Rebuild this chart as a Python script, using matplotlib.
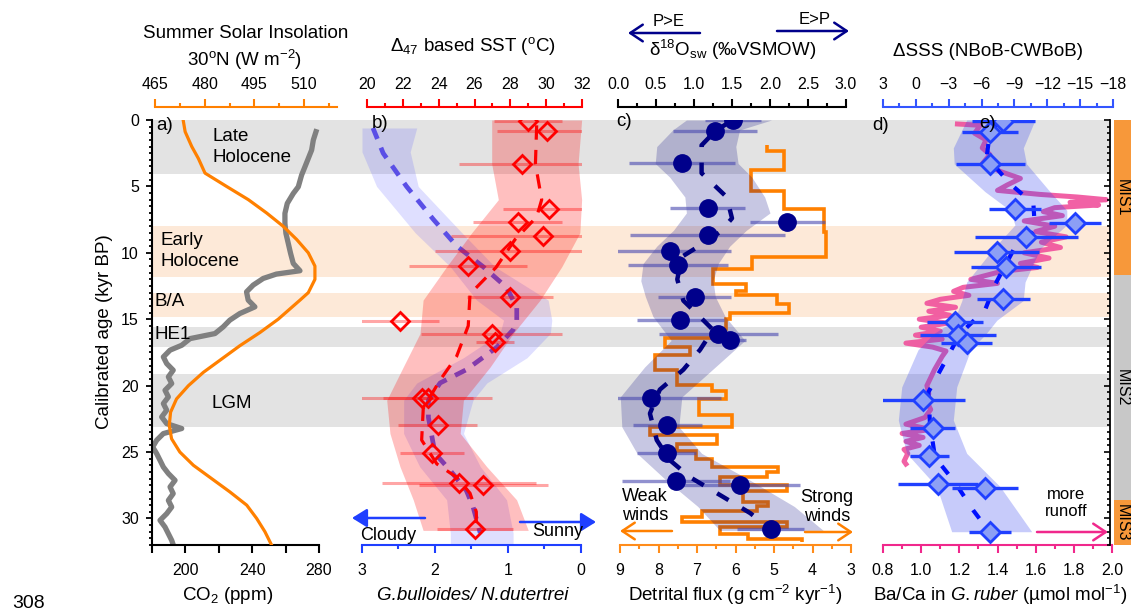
import numpy as np
import matplotlib
matplotlib.use("Agg")
import matplotlib.pyplot as plt
from matplotlib.patches import FancyArrowPatch
from matplotlib.ticker import FixedLocator, FormatStrFormatter

# ---------------- data (ages in kyr BP) ----------------
# a) summer insolation 30N (W m-2) and CO2 (ppm)
ins_age = [0, 0.88, 2.0, 2.9, 4.0, 5.0, 6.0, 7.0, 8.0, 9.0, 10.0, 11.0, 12.0, 13.0,
           13.56, 15.0, 16.0, 17.0, 18.0, 19.0, 20.0, 21.0, 22.0, 23.0, 24.0, 25.0,
           26.0, 27.0, 28.0, 29.0, 30.0, 31.0, 32.0]
ins_val = [473.5, 474.1, 476.1, 478.1, 480.1, 486.6, 493.2, 498.7, 503.7, 507.8, 511.3,
           513.3, 513.3, 511.3, 508.8, 502.2, 496.7, 490.6, 485.1, 479.6, 475.1, 471.5,
           469.7, 469.3, 470.0, 472.5, 476.6, 482.1, 487.6, 492.7, 495.7, 498.2, 500.2]

co2_age = [0.88, 1.51, 2.26, 2.89, 3.52, 4.14, 5.03, 5.53, 6.28, 7.03, 7.79, 8.54, 9.29,
           10.05, 10.8, 11.35, 11.6, 11.93, 12.43, 12.94, 13.56, 14.07, 14.57, 15.07,
           15.58, 16.08, 16.46, 16.96, 17.33, 17.84, 18.34, 18.84, 19.34, 19.84, 20.35,
           20.85, 21.35, 21.85, 22.36, 22.86, 23.23, 23.61, 24.11, 24.62, 25.12, 25.62,
           26.13, 26.62, 27.13, 27.63, 28.13, 28.64, 29.14, 29.64, 30.14, 30.65, 31.15,
           31.65, 31.98]
co2_val = [278.2, 276.6, 275.6, 273.6, 271.6, 269.6, 267.6, 264.6, 261.0, 259.6, 259.6,
           260.2, 261.6, 263.0, 264.6, 268.6, 254.5, 246.6, 240.6, 236.6, 237.6, 241.6,
           232.6, 226.6, 222.6, 217.7, 202.8, 197.8, 190.8, 186.8, 188.8, 192.7, 189.8,
           191.8, 187.8, 189.8, 186.8, 188.8, 185.8, 188.8, 197.8, 186.8, 182.8, 180.4,
           182.8, 184.8, 186.8, 189.8, 193.8, 190.8, 192.7, 189.8, 191.8, 188.8, 184.8,
           187.8, 189.8, 191.8, 192.7]

# b) clumped-isotope SST (degC) and G.bulloides/N.dutertrei ratio
sst_age = [0.05, 0.8, 3.3, 6.7, 7.7, 8.7, 9.9, 11.0, 13.3, 15.1, 16.1, 16.7, 20.9,
           20.9, 23.0, 25.1, 27.3, 27.5, 30.8]
sst_val = [29.0, 30.06, 28.65, 30.17, 28.4, 29.8, 28.0, 25.65, 28.0, 21.84, 26.96,
           27.14, 23.05, 23.42, 23.94, 23.64, 25.13, 26.49, 26.03]
sst_err = [1.9, 2.8, 3.5, 2.6, 2.5, 5.1, 4.2, 3.3, 2.4, 2.2, 3.95, 1.07, 3.9, 2.5,
           2.2, 1.8, 4.3, 3.6, 2.1]
sst_fit_age = [0.4, 3.3, 6.0, 7.3, 9.0, 11.1, 13.1, 15.5, 17.8, 19.6, 21.7, 24.1,
               25.9, 26.9, 28.1, 29.5, 30.9]
sst_fit = [29.47, 29.4, 29.75, 29.47, 28.26, 27.2, 25.75, 25.65, 25.0, 24.07, 23.14,
           23.05, 23.9, 25.0, 25.75, 26.1, 26.1]
sst_band_age = [0, 3.3, 6.0, 8.5, 11.05, 13.56, 16.07, 18.6, 21.1, 23.6, 26.1, 28.6, 30.9]
sst_band_lo = [26.96, 26.96, 27.33, 25.84, 24.44, 23.13, 22.96, 22.02, 21.1, 21.28,
               21.84, 22.58, 23.13]
sst_band_hi = [31.98, 31.78, 31.98, 31.88, 30.87, 29.66, 28.16, 26.87, 25.38, 25.2,
               26.68, 28.35, 29.0]

ratio_fit_age = [0.6, 2.5, 5.0, 7.5, 9.5, 11.05, 12.6, 14.1, 15.1, 15.8, 17.1, 18.8,
                 19.8, 21.1, 22.4, 23.6, 25.1, 26.4, 27.9, 29.1, 31.1]
ratio_fit = [2.85, 2.71, 2.39, 2.02, 1.70, 1.34, 1.02, 0.88, 0.88, 0.93, 1.15, 1.57,
             1.93, 2.09, 2.09, 2.05, 2.0, 1.79, 1.57, 1.48, 1.38]
ratio_band_age = [0.6, 2.4, 5.0, 8.5, 11.05, 13.56, 15.07, 16.07, 17.9, 19.8, 21.1,
                  23.6, 26.1, 28.6, 31.1, 32.0]
ratio_band_hi = [3.0, 3.0, 2.8, 2.27, 1.79, 1.43, 1.06, 1.11, 1.61, 2.25, 2.43, 2.43,
                 2.21, 1.84, 1.79, 1.79]
ratio_band_lo = [2.25, 2.34, 2.23, 1.63, 1.18, 0.45, 0.40, 0.42, 0.74, 1.29, 1.48, 1.61,
                 1.38, 1.02, 0.93, 0.93]

# c) d18O seawater (permil VSMOW) and detrital flux (g cm-2 kyr-1)
d18_age = [0.0, 0.83, 3.27, 6.66, 7.7, 8.67, 9.9, 10.9, 13.3, 15.07, 16.1, 16.6, 20.9,
           23.0, 25.1, 27.2, 27.5, 30.8]
d18_val = [1.51, 1.28, 0.84, 1.18, 2.23, 1.18, 0.69, 0.79, 1.01, 0.82, 1.32, 1.47, 0.43,
           0.65, 0.64, 0.76, 1.61, 2.01]
d18_err = [0.37, 0.55, 0.70, 0.49, 0.49, 1.02, 0.80, 0.66, 0.48, 0.57, 0.78, 0.22, 0.93,
           0.45, 0.39, 0.71, 0.79, 0.44]
d18_fit_age = [0.0, 0.83, 1.9, 4.0, 5.8, 7.4, 8.4, 9.3, 10.3, 12.0, 13.6, 14.6, 15.8,
               17.3, 18.8, 20.3, 22.1, 24.1, 25.6, 26.9, 28.4, 29.6, 30.6]
d18_fit = [1.51, 1.28, 1.10, 1.10, 1.43, 1.50, 1.35, 1.12, 0.84, 0.78, 0.86, 1.04, 1.25,
           1.08, 0.86, 0.55, 0.42, 0.51, 0.68, 0.95, 1.39, 1.74, 1.96]
d18_band_age = [0, 0.75, 2.0, 3.27, 4.3, 5.8, 7.0, 8.3, 9.5, 10.8, 12.1, 13.3, 14.8,
                16.6, 18.6, 20.85, 23.1, 25.1, 27.1, 29.1, 30.9]
d18_band_lo = [0.90, 0.72, 0.51, 0.49, 0.68, 0.88, 0.90, 0.73, 0.51, 0.33, 0.30, 0.36,
               0.46, 0.70, 0.35, 0.03, 0.05, 0.25, 0.63, 1.05, 1.34]
d18_band_hi = [2.02, 1.60, 1.55, 1.58, 1.76, 1.93, 2.0, 1.69, 1.47, 1.32, 1.25, 1.28,
               1.41, 1.67, 1.28, 0.84, 0.80, 1.10, 1.73, 2.32, 2.70]

flux_edges = [1.88, 2.31, 3.77, 5.33, 6.71, 8.42, 10.35, 11.2, 12.36, 12.86, 13.19,
              13.87, 14.52, 15.02, 15.7, 16.45, 17.1, 17.7, 18.84, 19.97, 20.4, 21.0,
              22.2, 23.1, 23.7, 24.4, 24.9, 25.5, 26.1, 26.5, 26.9, 27.5, 27.96, 28.76,
              29.09, 29.44, 29.9, 30.3, 30.65, 31.15, 31.52, 31.75]
flux_val = [5.17, 4.73, 5.61, 4.73, 3.70, 3.66, 5.58, 6.59, 5.73, 6.0, 4.93, 4.60, 6.14,
            6.25, 6.58, 7.83, 7.18, 8.09, 7.53, 6.62, 6.25, 6.95, 6.10, 8.22, 6.49, 7.53,
            7.03, 6.62, 4.89, 5.19, 6.40, 4.67, 5.8, 5.15, 5.45, 6.88, 7.4, 4.67, 6.40,
            5.67, 4.28]

# d/e) delta SSS (NBoB-CWBoB) and Ba/Ca in G.ruber (umol mol-1)
sss_age = [0.08, 0.88, 3.34, 6.73, 7.79, 8.79, 9.97, 11.05, 13.49, 15.2, 16.2, 16.8,
           21.1, 23.2, 25.3, 27.4, 27.7, 31.0]
sss_val = [-8.0, -6.77, -6.77, -9.05, -14.53, -10.06, -7.38, -8.23, -7.99, -3.58,
           -3.88, -4.64, -0.68, -1.54, -1.23, -2.05, -6.32, -6.77]
sss_err = [2.9, 2.6, 3.15, 2.4, 2.4, 4.7, 3.9, 3.2, 2.4, 2.56, 3.47, 2.3, 3.8, 2.05,
           1.8, 3.65, 3.0, 1.9]
sss_fit_age = [0.1, 0.8, 2.8, 4.8, 6.3, 8.3, 9.8, 12.4, 14.3, 16.1, 18.2, 20.5, 22.9,
               25.4, 27.3, 29.4, 30.9]
sss_fit = [-7.68, -6.77, -6.47, -8.6, -10.73, -10.88, -8.9, -7.23, -6.32, -4.03, -2.66,
           -1.14, -1.29, -1.75, -3.58, -5.25, -6.62]
sss_band_age = [0.0, 2.1, 3.3, 5.4, 6.8, 7.9, 9.7, 12.2, 13.6, 15.07, 16.1, 17.3, 20.1,
                22.6, 25.1, 27.6, 31.0]
sss_band_lo = [-4.64, -3.42, -3.5, -6.32, -8.6, -9.05, -7.07, -4.64, -4.2, -3.5, -1.6,
               -0.2, 1.29, 1.6, 0.84, -1.9, -3.27]
sss_band_hi = [-10.88, -9.81, -10.1, -12.25, -13.78, -13.78, -11.34, -9.97, -9.8, -7.4,
               -6.4, -5.0, -3.73, -3.42, -4.64, -7.68, -10.58]

baca_age = [0.3, 0.4, 1.0, 1.5, 2.1, 2.6, 3.3, 3.9, 4.4, 4.9, 5.3, 5.6, 5.8, 6.0, 6.2,
            6.4, 6.6, 6.9, 7.2, 7.6, 8.0, 8.4, 8.8, 9.2, 9.6, 10.0, 10.4, 10.8, 11.1,
            11.4, 11.7, 12.0, 12.3, 12.6, 12.9, 13.2, 13.5, 13.8, 14.1, 14.4, 14.7, 15.0,
            15.3, 15.6, 15.9, 16.2, 16.5, 16.8, 17.1, 17.4, 17.8, 18.3, 18.8, 19.4, 20.0,
            20.6, 21.2, 21.8, 22.4, 22.9, 23.3, 23.6, 23.9, 24.2, 24.5, 24.8, 25.1, 25.4,
            25.7, 25.9]
baca_val = [1.19, 1.31, 1.28, 1.34, 1.32, 1.36, 1.32, 1.42, 1.52, 1.45, 1.40, 1.62, 1.82,
            1.97, 1.78, 1.93, 1.70, 1.64, 1.74, 1.54, 1.70, 1.60, 1.76, 1.63, 1.73, 1.54,
            1.67, 1.52, 1.61, 1.42, 1.34, 1.26, 1.40, 1.22, 1.17, 1.25, 1.10, 1.03, 1.18,
            1.04, 1.15, 0.99, 1.14, 1.00, 1.10, 0.97, 1.11, 0.92, 1.06, 1.13, 1.11, 1.09,
            1.07, 1.05, 1.03, 1.04, 1.03, 1.05, 1.02, 0.92, 1.05, 0.90, 1.01, 0.92, 0.99,
            0.91, 0.93, 0.92, 0.91, 0.92]

# climate intervals and marine isotope stages
gray_bands = [(0, 4.1), (15.6, 17.1), (19.1, 23.1)]
peach_bands = [(8.0, 11.8), (13.0, 14.8)]
mis_edges = [0, 11.7, 28.6, 32]
mis_names = ["MIS1", "MIS2", "MIS3"]

# ---------------- figure ----------------
plt.rcParams["font.family"] = ["Liberation Sans", "DejaVu Sans"]
plt.rcParams["mathtext.fontset"] = "custom"
plt.rcParams["mathtext.rm"] = "Liberation Sans"
plt.rcParams["mathtext.it"] = "Liberation Sans:italic"
plt.rcParams["mathtext.bf"] = "Liberation Sans:bold"

W, H = 1131, 616
TOP, BOT = 120, 545
TICK_FS = 11.5
LAB_FS = 13.5

fig = plt.figure(figsize=(W / 100, H / 100), dpi=100)


def px_axes(x0, x1):
    return fig.add_axes([x0 / W, 1 - BOT / H, (x1 - x0) / W, (BOT - TOP) / H])


def ftext(x, y, s, **kw):
    kw.setdefault("fontsize", LAB_FS)
    kw.setdefault("ha", "center")
    kw.setdefault("va", "center")
    fig.text(x / W, 1 - y / H, s, **kw)


def farrow(x0, y, x1, color, style):
    fig.add_artist(FancyArrowPatch((x0 / W, 1 - y / H), (x1 / W, 1 - y / H),
                                   transform=fig.transFigure, arrowstyle=style,
                                   color=color, lw=1.8, mutation_scale=20,
                                   shrinkA=0, shrinkB=0))


def bottom_axis(ax, color, xlim, bounds, major, minor, fmt=None):
    ax.set_facecolor("none")
    ax.set_ylim(32, 0)
    ax.set_xlim(*xlim)
    for s in ("top", "right", "left"):
        ax.spines[s].set_visible(False)
    sp = ax.spines["bottom"]
    sp.set_color(color)
    sp.set_linewidth(1.5)
    sp.set_bounds(*bounds)
    ax.xaxis.set_major_locator(FixedLocator(major))
    ax.xaxis.set_minor_locator(FixedLocator(minor))
    if fmt:
        ax.xaxis.set_major_formatter(FormatStrFormatter(fmt))
    ax.tick_params(axis="x", which="both", direction="out", color=color, width=1.5,
                   labelsize=TICK_FS, pad=7)
    ax.tick_params(axis="x", which="major", length=6)
    ax.tick_params(axis="x", which="minor", length=3)
    ax.tick_params(axis="y", which="both", left=False, labelleft=False)


def top_axis(ax, color, xlim, bounds, major, minor, fmt=None):
    tw = ax.twiny()
    tw.set_xlim(*xlim)
    for s in ("bottom", "right", "left"):
        tw.spines[s].set_visible(False)
    sp = tw.spines["top"]
    sp.set_position(("outward", 9.4))
    sp.set_color(color)
    sp.set_linewidth(1.5)
    sp.set_bounds(*bounds)
    tw.xaxis.set_major_locator(FixedLocator(major))
    tw.xaxis.set_minor_locator(FixedLocator(minor))
    if fmt:
        tw.xaxis.set_major_formatter(FormatStrFormatter(fmt))
    tw.tick_params(axis="x", which="both", direction="out", color=color, width=1.5,
                   labelsize=TICK_FS, pad=4.5)
    tw.tick_params(axis="x", which="major", length=6)
    tw.tick_params(axis="x", which="minor", length=3)
    return tw


# background bands across all panels
ax_bg = px_axes(152, 1110)
ax_bg.set_ylim(32, 0)
ax_bg.axis("off")
for a0, a1 in gray_bands:
    ax_bg.axhspan(a0, a1, color="#e3e3e3", lw=0)
for a0, a1 in peach_bands:
    ax_bg.axhspan(a0, a1, color="#fde9d8", lw=0)

# ---- panel a ----
ax_a = px_axes(152, 338)
bottom_axis(ax_a, "black", (180, 291.38), (180, 280), [200, 240, 280], [180, 220, 260])
ax_a.tick_params(axis="x", which="minor", length=6)
ax_a.spines["left"].set_visible(True)
ax_a.spines["left"].set_linewidth(1.5)
ax_a.yaxis.set_major_locator(FixedLocator(np.arange(0, 31, 5)))
ax_a.yaxis.set_minor_locator(FixedLocator(np.arange(0, 32.01, 0.5)))
ax_a.tick_params(axis="y", which="both", left=True, labelleft=True, direction="out",
                 width=1.3, labelsize=TICK_FS, pad=5)
ax_a.tick_params(axis="y", which="major", length=4.5)
ax_a.tick_params(axis="y", which="minor", length=2.5)
ax_a.plot(co2_val, co2_age, color="#808080", lw=3.8, solid_joinstyle="round")
tw_a = top_axis(ax_a, "#ff8000", (464.09, 520.27), (465, 520), [465, 480, 495, 510],
                [472.5, 487.5, 502.5, 517.5])
tw_a.plot(ins_val, ins_age, color="#ff8000", lw=2.3)

# ---- panel b ----
ax_b = px_axes(362, 582)
bottom_axis(ax_b, "#1f3fff", (3, -0.014), (3, 0), [3, 2, 1, 0], [2.5, 1.5, 0.5])
ax_b.fill_betweenx(ratio_band_age, ratio_band_lo, ratio_band_hi, color="#6060ff",
                   alpha=0.2, lw=0)
ax_b.plot(ratio_fit, ratio_fit_age, color="#5a4fe6", lw=3.4, dashes=(2.5, 2))
tw_b = top_axis(ax_b, "#ff0000", (19.72, 32.0), (20, 32), np.arange(20, 33, 2),
                np.arange(21, 32, 2))
tw_b.fill_betweenx(sst_band_age, sst_band_lo, sst_band_hi, color="#ff0000",
                   alpha=0.25, lw=0)
tw_b.errorbar(sst_val, sst_age, xerr=sst_err, fmt="none", ecolor="#ff0000",
              elinewidth=2.2, alpha=0.35, capsize=0)
tw_b.plot(sst_fit, sst_fit_age, color="#ff0000", lw=2.3, dashes=(4.5, 3.2))
tw_b.plot(sst_val, sst_age, "D", ms=9.5, mfc="none", mec="#ff0000", mew=2)

# ---- panel c ----
ax_c = px_axes(618, 851)
bottom_axis(ax_c, "#ff8c1a", (9.052, 3.0), (9, 3), np.arange(9, 2.9, -1),
            np.arange(8.5, 3.4, -1))
ax_c.stairs(flux_val, flux_edges, orientation="horizontal", baseline=None,
            color="#ff8000", lw=2.6)
tw_c = top_axis(ax_c, "black", (0, 3.066), (0, 3), np.arange(0, 3.01, 0.5),
                np.arange(0.25, 3, 0.5), fmt="%.1f")
tw_c.fill_betweenx(d18_band_age, d18_band_lo, d18_band_hi, color="#000080",
                   alpha=0.22, lw=0)
tw_c.errorbar(d18_val, d18_age, xerr=d18_err, fmt="none", ecolor="#4848b0",
              elinewidth=2.4, alpha=0.6, capsize=0)
tw_c.plot(d18_fit, d18_fit_age, color="#000080", lw=3.2, dashes=(3, 3.5))
tw_c.plot(d18_val, d18_age, "o", ms=12.5, color="#00008b")

# ---- panel d / e ----
ax_d = px_axes(883, 1113)
bottom_axis(ax_d, "#f0288c", (0.8, 2.0052), (0.8, 2.0), np.arange(0.8, 2.01, 0.2),
            np.arange(0.9, 2.0, 0.2), fmt="%.1f")
ax_d.plot(baca_val, baca_age, color="#f0509b", lw=3.6, alpha=0.9)
tw_d = top_axis(ax_d, "#3355ff", (3, -18), (3, -18), np.arange(3, -18.1, -3),
                np.arange(1.5, -17, -3))
tw_d.fill_betweenx(sss_band_age, sss_band_lo, sss_band_hi, color="#3040f0",
                   alpha=0.27, lw=0)
tw_d.plot(sss_fit, sss_fit_age, color="#0010ff", lw=3, dashes=(2.5, 4))
tw_d.errorbar(sss_val, sss_age, xerr=sss_err, fmt="none", ecolor="#2040ff",
              elinewidth=2.4, capsize=0)
tw_d.plot(sss_val, sss_age, "D", ms=10, mfc="#8c9ff5", mec="#2040ff", mew=2)

# ---- MIS bar ----
ax_m = px_axes(1110, 1131)
ax_m.set_facecolor("none")
ax_m.set_ylim(32, 0)
ax_m.set_xlim(0, 1)
for s in ("top", "right", "bottom"):
    ax_m.spines[s].set_visible(False)
ax_m.spines["left"].set_linewidth(1.3)
ax_m.set_xticks([])
ax_m.yaxis.set_major_locator(FixedLocator(np.arange(0, 31, 5)))
ax_m.yaxis.set_minor_locator(FixedLocator(np.arange(0, 32.01, 0.5)))
ax_m.tick_params(axis="y", which="both", direction="out", labelleft=False, width=1.2)
ax_m.tick_params(axis="y", which="major", length=4)
ax_m.tick_params(axis="y", which="minor", length=2)
mis_cols = ["#f7983a", "#c8c8c8", "#f7983a"]
for i, name in enumerate(mis_names):
    ax_m.axhspan(mis_edges[i], mis_edges[i + 1], xmin=0.19, xmax=1, color=mis_cols[i], lw=0)
    ax_m.text(0.6, (mis_edges[i] + mis_edges[i + 1]) / 2, name, rotation=-90,
              ha="center", va="center", fontsize=TICK_FS)

# ---- text ----
ftext(246, 33, "Summer Solar Insolation")
ftext(245, 60, "30$^{\\rm o}$N (W m$^{-2}$)")
ftext(473, 46, "Δ$_{47}$ based SST ($^{\\rm o}$C)")
ftext(733, 50, "δ$^{18}$O$_{\\rm sw}$ (‰VSMOW)")
ftext(988, 51, "ΔSSS (NBoB-CWBoB)")
ftext(669, 21, "P>E", fontsize=TICK_FS + 0.5)
ftext(815, 19, "E>P", fontsize=TICK_FS + 0.5)
farrow(700, 33, 628, "#00008b", "->,head_length=0.45,head_width=0.3")
farrow(777, 31, 849, "#00008b", "->,head_length=0.45,head_width=0.3")

ftext(228, 595, "CO$_2$ (ppm)")
ftext(473, 595, "G.bulloides/ N.dutertrei", fontstyle="italic")
ftext(735, 595, "Detrital flux (g cm$^{-2}$ kyr$^{-1}$)")
ftext(1000, 595, "Ba/Ca in $\\mathit{G.ruber}$ (µmol mol$^{-1}$)")
ftext(104.5, 332, "Calibrated age (kyr BP)", rotation=90)
ftext(29, 604, "308", fontsize=14)

for lab, x, y in [("a)", 165, 125), ("b)", 380, 124), ("c)", 624, 121),
                  ("d)", 881, 126), ("e)", 988, 124)]:
    ftext(x, y, lab)

ftext(213, 147, "Late\nHolocene", ha="left", linespacing=1.25)
ftext(160, 251, "Early\nHolocene", ha="left", linespacing=1.25)
ftext(155, 301, "B/A", ha="left")
ftext(155, 335, "HE1", ha="left")
ftext(232, 403, "LGM")

ftext(388, 535, "Cloudy", fontsize=LAB_FS - 0.5)
ftext(558, 532, "Sunny", fontsize=LAB_FS - 0.5)
farrow(425, 518, 352, "#1f3fff", "-|>,head_length=0.45,head_width=0.28")
farrow(520, 522, 596, "#1f3fff", "-|>,head_length=0.45,head_width=0.28")

ftext(645, 506, "Weak\nwinds", fontsize=LAB_FS - 0.5, linespacing=1.2)
ftext(827, 507, "Strong\nwinds", fontsize=LAB_FS - 0.5, linespacing=1.2)
farrow(672, 531, 620, "#ff8000", "->,head_length=0.45,head_width=0.3")
farrow(805, 532, 853, "#ff8000", "->,head_length=0.45,head_width=0.3")

ftext(1066, 503, "more\nrunoff", fontsize=TICK_FS + 0.5, linespacing=1.2)
farrow(1037, 532, 1108, "#f0288c", "->,head_length=0.45,head_width=0.3")

fig.savefig("out.png", dpi=100)
